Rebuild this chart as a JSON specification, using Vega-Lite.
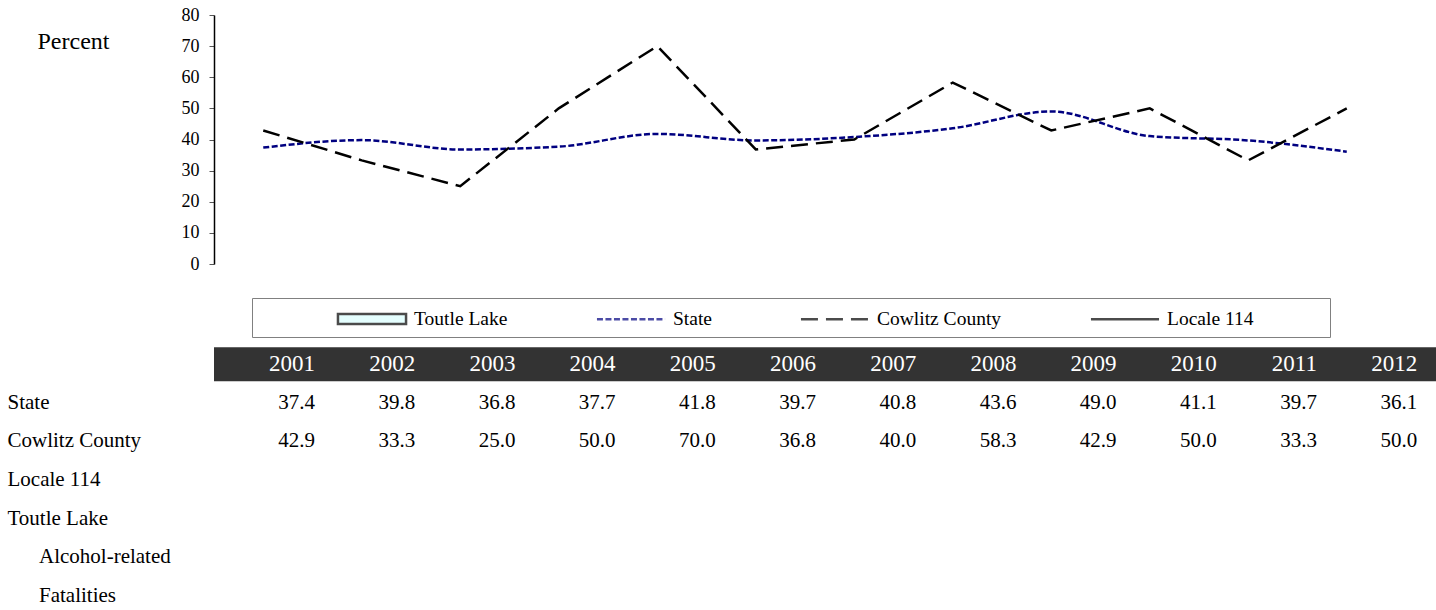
{
  "$schema": "https://vega.github.io/schema/vega-lite/v6.json",
  "background": "white",
  "padding": {"left": 7, "top": 6, "right": 0, "bottom": 0},
  "spacing": 72,
  "config": {
    "font": "Liberation Serif",
    "view": {"stroke": null},
    "axis": {"labelFont": "Liberation Serif", "titleFont": "Liberation Serif", "labelColor": "black", "titleColor": "black", "grid": false},
    "legend": {"labelFont": "Liberation Serif", "titleFont": "Liberation Serif"},
    "text": {"font": "Liberation Serif"}
  },
  "datasets": {
    "rows": [
      {"year": "2001", "series": "State", "value": 37.4},
      {"year": "2002", "series": "State", "value": 39.8},
      {"year": "2003", "series": "State", "value": 36.8},
      {"year": "2004", "series": "State", "value": 37.7},
      {"year": "2005", "series": "State", "value": 41.8},
      {"year": "2006", "series": "State", "value": 39.7},
      {"year": "2007", "series": "State", "value": 40.8},
      {"year": "2008", "series": "State", "value": 43.6},
      {"year": "2009", "series": "State", "value": 49.0},
      {"year": "2010", "series": "State", "value": 41.1},
      {"year": "2011", "series": "State", "value": 39.7},
      {"year": "2012", "series": "State", "value": 36.1},
      {"year": "2001", "series": "Cowlitz County", "value": 42.9},
      {"year": "2002", "series": "Cowlitz County", "value": 33.3},
      {"year": "2003", "series": "Cowlitz County", "value": 25.0},
      {"year": "2004", "series": "Cowlitz County", "value": 50.0},
      {"year": "2005", "series": "Cowlitz County", "value": 70.0},
      {"year": "2006", "series": "Cowlitz County", "value": 36.8},
      {"year": "2007", "series": "Cowlitz County", "value": 40.0},
      {"year": "2008", "series": "Cowlitz County", "value": 58.3},
      {"year": "2009", "series": "Cowlitz County", "value": 42.9},
      {"year": "2010", "series": "Cowlitz County", "value": 50.0},
      {"year": "2011", "series": "Cowlitz County", "value": 33.3},
      {"year": "2012", "series": "Cowlitz County", "value": 50.0}
    ]
  },
  "vconcat": [
    {
      "width": 1182,
      "height": 249,
      "data": {"name": "rows"},
      "encoding": {
        "x": {"field": "year", "type": "ordinal", "scale": {"type": "point", "padding": 0.5}, "axis": null},
        "y": {
          "field": "value", "type": "quantitative",
          "scale": {"domain": [0, 80]},
          "axis": {
            "values": [0, 10, 20, 30, 40, 50, 60, 70, 80],
            "title": "Percent", "titleAngle": 0, "titleAlign": "left", "titleBaseline": "alphabetic",
            "titleX": -177, "titleY": 33, "titleFontSize": 24, "titleFontWeight": "normal", "titleFont": "Liberation Serif",
            "labelFont": "Liberation Serif", "labelFontSize": 18, "labelPadding": 10, "tickSize": 5, "tickColor": "#555555",
            "domainColor": "black", "domainWidth": 1.5
          }
        },
        "stroke": {
          "field": "series", "type": "nominal",
          "scale": {"domain": ["Toutle Lake", "State", "Cowlitz County", "Locale 114"], "range": ["black", "#000080", "black", "black"]},
          "legend": {
            "orient": "none", "legendX": 38, "legendY": 283, "direction": "horizontal",
            "title": "\u00a0", "titleOrient": "left", "titlePadding": 99, "titleFontSize": 19.5,
            "padding": 8, "strokeColor": "#808080",
            "symbolSize": 515, "symbolStrokeWidth": 2.5,
            "labelFontSize": 19.5, "labelColor": "black", "labelOffset": 29, "columnPadding": 83, "labelLimit": 500,
            "labelExpr": "datum.label == 'Locale 114' ? datum.label + '\u00a0\u00a0\u00a0\u00a0\u00a0\u00a0\u00a0\u00a0\u00a0\u00a0\u00a0\u00a0\u00a0\u00a0\u200b' : datum.label"
          }
        },
        "strokeDash": {
          "field": "series", "type": "nominal",
          "scale": {"domain": ["Toutle Lake", "State", "Cowlitz County", "Locale 114"], "range": [[1, 0], [6, 2.5], [17, 8], [1, 0]]},
          "legend": {
            "orient": "none", "legendX": 38, "legendY": 283, "direction": "horizontal",
            "title": "\u00a0", "titleOrient": "left", "titlePadding": 99, "titleFontSize": 19.5,
            "padding": 8, "strokeColor": "#808080",
            "symbolSize": 515, "symbolStrokeWidth": 2.5,
            "labelFontSize": 19.5, "labelColor": "black", "labelOffset": 29, "columnPadding": 83, "labelLimit": 500,
            "labelExpr": "datum.label == 'Locale 114' ? datum.label + '\u00a0\u00a0\u00a0\u00a0\u00a0\u00a0\u00a0\u00a0\u00a0\u00a0\u00a0\u00a0\u00a0\u00a0\u200b' : datum.label"
          }
        }
      },
      "layer": [
        {
          "transform": [{"filter": "datum.series == 'State'"}],
          "mark": {"type": "line", "strokeWidth": 2.5, "interpolate": "monotone"}
        },
        {
          "transform": [{"filter": "datum.series == 'Cowlitz County'"}],
          "mark": {"type": "line", "strokeWidth": 2.5}
        },
        {
          "transform": [{"filter": "datum.value > 999"}],
          "mark": {"type": "point", "filled": true, "strokeWidth": 2.5},
          "encoding": {
            "shape": {
              "field": "series", "type": "nominal",
              "scale": {"domain": ["Toutle Lake", "State", "Cowlitz County", "Locale 114"], "range": ["M-3,-0.44H3V0.44H-3Z", "M-3,0H3", "M-3,0H3", "M-3,0H3"]},
              "legend": {
                "orient": "none", "legendX": 38, "legendY": 283, "direction": "horizontal",
                "title": "\u00a0", "titleOrient": "left", "titlePadding": 99, "titleFontSize": 19.5,
                "padding": 8, "strokeColor": "#808080",
                "symbolSize": 515, "symbolStrokeWidth": 2.5,
                "labelFontSize": 19.5, "labelColor": "black", "labelOffset": 29, "columnPadding": 83, "labelLimit": 500,
                "labelExpr": "datum.label == 'Locale 114' ? datum.label + '\u00a0\u00a0\u00a0\u00a0\u00a0\u00a0\u00a0\u00a0\u00a0\u00a0\u00a0\u00a0\u00a0\u00a0\u200b' : datum.label"
              }
            },
            "fill": {
              "field": "series", "type": "nominal",
              "scale": {"domain": ["Toutle Lake", "State", "Cowlitz County", "Locale 114"], "range": ["#ccffff", "transparent", "transparent", "transparent"]},
              "legend": {
                "orient": "none", "legendX": 38, "legendY": 283, "direction": "horizontal",
                "title": "\u00a0", "titleOrient": "left", "titlePadding": 99, "titleFontSize": 19.5,
                "padding": 8, "strokeColor": "#808080",
                "symbolSize": 515, "symbolStrokeWidth": 2.5,
                "labelFontSize": 19.5, "labelColor": "black", "labelOffset": 29, "columnPadding": 83, "labelLimit": 500,
                "labelExpr": "datum.label == 'Locale 114' ? datum.label + '\u00a0\u00a0\u00a0\u00a0\u00a0\u00a0\u00a0\u00a0\u00a0\u00a0\u00a0\u00a0\u00a0\u00a0\u200b' : datum.label"
              }
            }
          }
        }
      ]
    },
    {
      "width": 1222,
      "height": 270,
      "layer": [
        {
          "data": {"values": [{"row": "header"}]},
          "mark": {"type": "rect", "color": "#333333"},
          "encoding": {
            "x": {"value": 0},
            "x2": {"value": "width"},
            "y": {
              "field": "row", "type": "nominal",
              "scale": {"type": "band", "domain": ["header", "State", "Cowlitz County", "Locale 114", "Toutle Lake", "Alcohol-related", "Fatalities"], "paddingInner": 0.12, "paddingOuter": 0.06},
              "axis": {
                "title": null, "domain": false, "ticks": false, "tickSize": 0,
                "labelAlign": "left", "labelPadding": 207, "labelFontSize": 21, "labelFont": "Liberation Serif", "labelLimit": 400,
                "labelExpr": "datum.value == 'header' ? '' : ((datum.value == 'Alcohol-related' || datum.value == 'Fatalities') ? '\u200b\u00a0\u00a0\u00a0\u00a0\u00a0\u00a0' + datum.value : datum.value)"
              }
            }
          }
        },
        {
          "data": {"name": "rows"},
          "transform": [{"filter": "datum.series == 'State'"}],
          "mark": {"type": "text", "align": "right", "baseline": "middle", "color": "white", "fontSize": 23},
          "encoding": {
            "x": {"field": "year", "type": "ordinal", "scale": {"type": "point", "padding": 0.598, "align": 0.843}, "axis": null},
            "y": {"datum": "header", "type": "nominal"},
            "text": {"field": "year"}
          }
        },
        {
          "data": {"name": "rows"},
          "mark": {"type": "text", "align": "right", "baseline": "middle", "color": "black", "fontSize": 21},
          "encoding": {
            "x": {"field": "year", "type": "ordinal"},
            "y": {"field": "series", "type": "nominal"},
            "text": {"field": "value", "type": "quantitative", "format": ".1f"}
          }
        }
      ]
    }
  ]
}
